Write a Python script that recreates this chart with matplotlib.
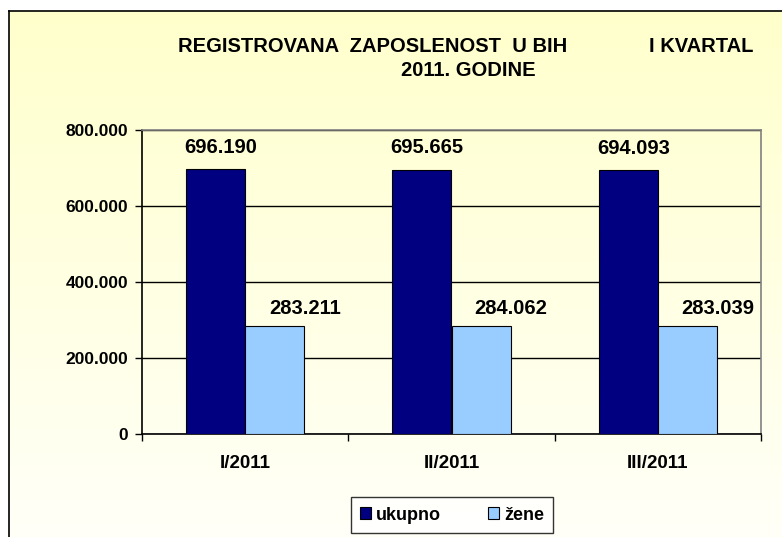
import matplotlib
matplotlib.use("Agg")
import matplotlib.pyplot as plt
import numpy as np
from matplotlib.colors import LinearSegmentedColormap

categories = ["I/2011", "II/2011", "III/2011"]
ukupno = [696190, 695665, 694093]
zene = [283211, 284062, 283039]
series_names = ["ukupno", "žene"]
yticks = [0, 200000, 400000, 600000, 800000]

def fmt(v):
    return f"{v:,}".replace(",", ".")

plt.rcParams['font.family'] = ['Liberation Sans', 'DejaVu Sans']

W, H = 782, 537
fig = plt.figure(figsize=(W/100, H/100), dpi=100)
fig.patch.set_facecolor("white")

# background gradient
bg = fig.add_axes([0, 0, 1, 1], zorder=-10)
grad = np.linspace(0, 1, 256).reshape(-1, 1)
cmap = LinearSegmentedColormap.from_list("g", ["#FFFFCC", "#FFFFF8"])
x0 = 9 / W
y1 = 1 - 11 / H
bg.imshow(grad, aspect="auto", cmap=cmap, extent=[x0, 1.0, 0, y1], origin="upper")
bg.set_xlim(0, 1); bg.set_ylim(0, 1)
bg.plot([x0, x0], [0, y1], color="black", lw=1.2)
bg.plot([x0, 1.0], [y1, y1], color="black", lw=1.2)
bg.axis("off")

ax = fig.add_axes([142/W, 1 - 434/H, (761-142)/W, (434-130)/H])
ax.set_facecolor("none")
x = np.arange(len(categories))
bw = 0.286
b1 = ax.bar(x - bw/2, ukupno, bw, color="#000080", edgecolor="black", lw=0.8, zorder=3, label=series_names[0])
b2 = ax.bar(x + bw/2, zene, bw, color="#99CCFF", edgecolor="black", lw=0.8, zorder=3, label=series_names[1])
for rect, v in zip(b1, ukupno):
    ax.text(rect.get_x() + rect.get_width()/2 + 0.024, v + 32000, fmt(v), ha="center", va="bottom",
            fontsize=14.5, fontweight="bold", zorder=4)
for rect, v in zip(b2, zene):
    ax.text(rect.get_x() + rect.get_width()/2 + 0.146, v + 22000, fmt(v), ha="center", va="bottom",
            fontsize=14.5, fontweight="bold", zorder=4)

ax.set_xlim(-0.5, len(categories) - 0.5)
ax.set_ylim(0, 800000)
ax.set_yticks(yticks)
ax.set_yticklabels([fmt(v) for v in yticks], fontsize=12.5, fontweight="bold")
ax.yaxis.grid(True, color="black", lw=1)
ax.set_axisbelow(True)
ax.set_xticks(x)
ax.set_xticklabels(categories, fontsize=13.5, fontweight="bold")
ax.tick_params(axis="x", length=0, pad=15)
ax.set_xticks(np.arange(-0.5, len(categories)), minor=True)
ax.tick_params(axis="x", which="minor", length=5, width=1, direction="out")
ax.tick_params(axis="y", length=5, width=1, direction="out", pad=5)
for s in ["left", "bottom"]:
    ax.spines[s].set_color("black"); ax.spines[s].set_linewidth(1.2)
for s in ["top", "right"]:
    ax.spines[s].set_color("#808080"); ax.spines[s].set_linewidth(1.2)

fig.text(178/W, 1 - 46/H, "REGISTROVANA  ZAPOSLENOST  U BIH", fontsize=14.5, fontweight="bold",
         ha="left", va="center")
fig.text(753/W, 1 - 46/H, "I KVARTAL", fontsize=14.5, fontweight="bold", ha="right", va="center")
fig.text(468/W, 1 - 71/H, "2011. GODINE", fontsize=14.5, fontweight="bold", ha="center", va="center")

leg = fig.legend(handles=[b1, b2], labels=series_names, loc="center", bbox_to_anchor=(452/W, 1 - 515/H),
                 ncol=2, frameon=True, fancybox=False, edgecolor="black",
                 prop={"weight": "bold", "size": 13}, handlelength=0.6, handleheight=0.6,
                 handletextpad=0.3, columnspacing=2.6, borderpad=0.5)
leg.get_frame().set_linewidth(1)
leg.get_frame().set_facecolor("white")

fig.savefig("out.png", dpi=100)
